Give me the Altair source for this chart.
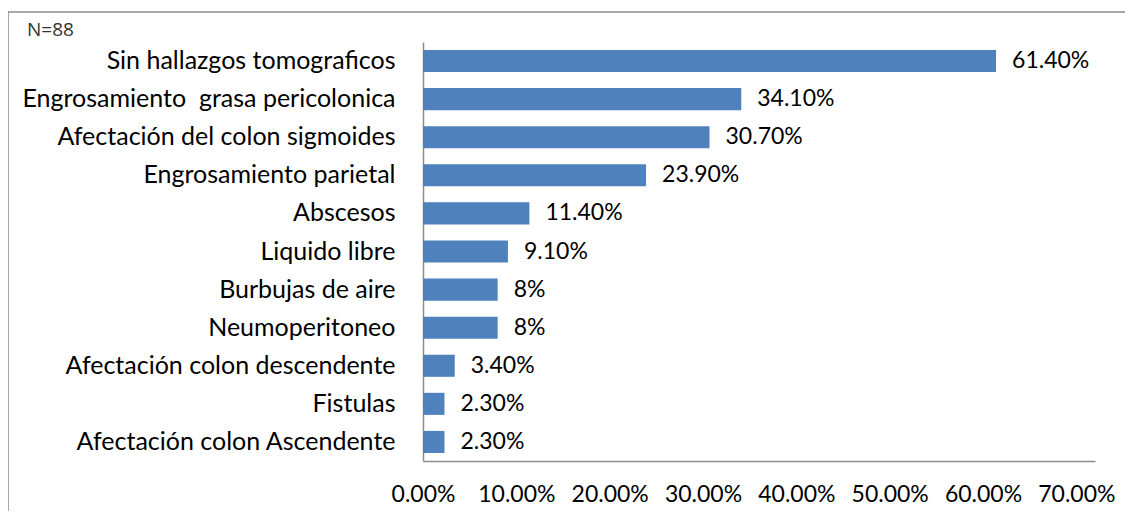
import altair as alt
import pandas as pd

categories = [
    "Sin hallazgos tomograficos",
    "Engrosamiento\u00a0 grasa pericolonica",
    "Afectación del colon sigmoides",
    "Engrosamiento parietal",
    "Abscesos",
    "Liquido libre",
    "Burbujas de aire",
    "Neumoperitoneo",
    "Afectación colon descendente",
    "Fistulas",
    "Afectación colon Ascendente",
]
values = [0.614, 0.341, 0.307, 0.239, 0.114, 0.091, 0.08, 0.08, 0.034, 0.023, 0.023]
value_labels = ["61.40%", "34.10%", "30.70%", "23.90%", "11.40%", "9.10%", "8%", "8%", "3.40%", "2.30%", "2.30%"]
tick_values = [0.0, 0.1, 0.2, 0.3, 0.4, 0.5, 0.6, 0.7]
note = "N=88"

df = pd.DataFrame({"cat": categories, "val": values, "lab": value_labels})

W, H = 672, 419
FONT = "Lato"
BLUE = "#4F81BD"
GREY = "#8c8c8c"

x = alt.X("val:Q", scale=alt.Scale(domain=[0, 0.72], nice=False, zero=True),
          axis=alt.Axis(values=tick_values, format=".2%", title=None, grid=False,
                        ticks=False, domain=True, domainColor=GREY, domainWidth=1.5,
                        labelFont=FONT, labelFontSize=23, labelColor="#000",
                        labelPadding=22, labelFlush=False))
y = alt.Y("cat:N", sort=categories, scale=alt.Scale(paddingInner=0.42, paddingOuter=0.21),
          axis=alt.Axis(title=None, ticks=False, domain=True, domainColor=GREY, domainWidth=1.5,
                        labelFont=FONT, labelFontSize=25, labelColor="#000",
                        labelPadding=28, labelLimit=420))

base = alt.Chart(df)
bars = base.mark_bar(color=BLUE).encode(x=x, y=y)
texts = base.mark_text(align="left", dx=16, font=FONT, fontSize=23, color="#000").encode(
    x=alt.X("val:Q"), y=alt.Y("cat:N", sort=categories), text="lab:N")

note_df = pd.DataFrame({"t": [note]})
note_mark = alt.Chart(note_df).mark_text(align="left", baseline="middle", font="Open Sans",
                                         fontSize=19, color="#333", clip=False).encode(
    x=alt.value(-396), y=alt.value(-12), text="t:N")

frame_top = alt.Chart(note_df).mark_rule(color=GREY, strokeWidth=1.5, clip=False).encode(
    x=alt.value(-415), x2=alt.value(W + 40), y=alt.value(-30))
frame_left = alt.Chart(note_df).mark_rule(color=GREY, strokeWidth=1.5, clip=False).encode(
    x=alt.value(-415), y=alt.value(-30), y2=alt.value(H + 60))

chart = alt.layer(frame_top, frame_left, bars, texts, note_mark).properties(
    width=W, height=H,
    autosize=alt.AutoSizeParams(type="none"),
    padding={"left": 415, "top": 34, "right": 30, "bottom": 50},
).configure_view(stroke=None)

chart.save("out.html", embed_options={"renderer": "svg", "actions": False})
